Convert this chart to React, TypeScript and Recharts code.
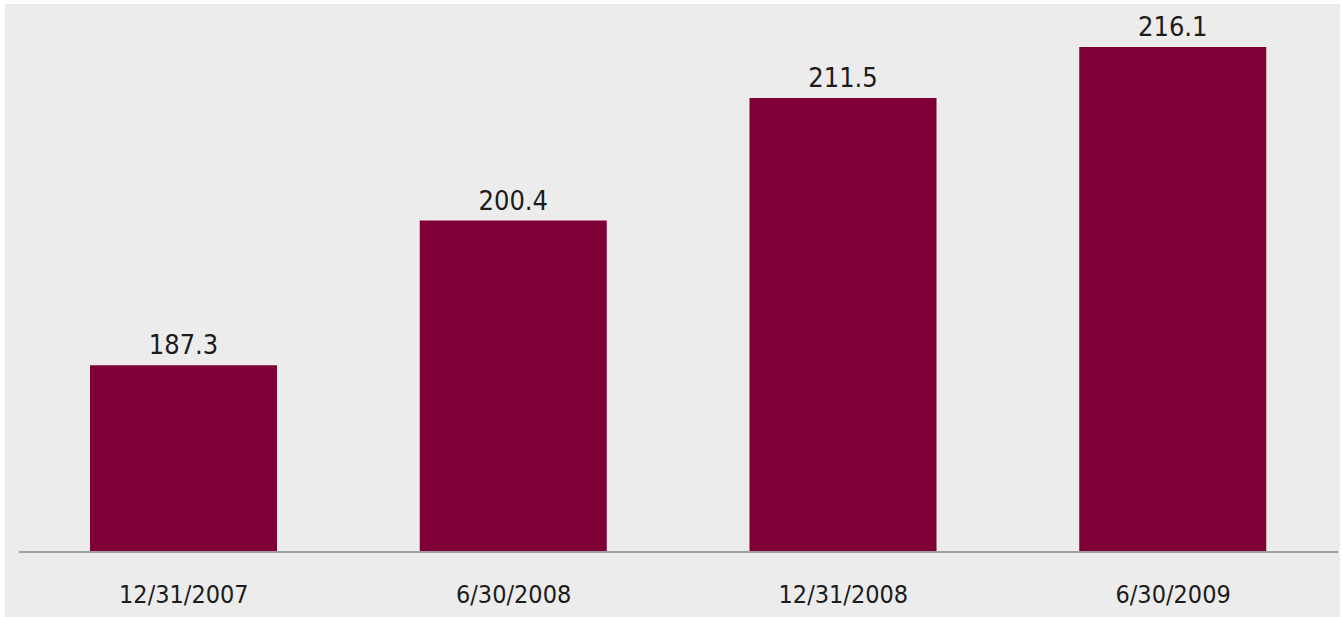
import React from "react";
import { BarChart, Bar, XAxis, YAxis, LabelList } from "recharts";

// Period-end dates and the values shown above each bar
const periods = ["12/31/2007", "6/30/2008", "12/31/2008", "6/30/2009"];
const values = [187.3, 200.4, 211.5, 216.1];

const data = periods.map((period, i) => ({ period, value: values[i] }));

const FONT = "Tahoma, 'DejaVu Sans Condensed', 'DejaVu Sans', sans-serif";
const BAR_COLOR = "#7f0037";

const App = () => {
  return (
    <div
      style={{
        position: "absolute",
        left: 0,
        top: 0,
        width: 1343,
        height: 617,
        background: "#ffffff",
        overflow: "hidden",
      }}
    >
      {/* Gray panel behind the chart */}
      <div
        style={{
          position: "absolute",
          left: 5,
          top: 4,
          width: 1335,
          height: 613,
          background: "#ececec",
        }}
      />
      <div style={{ position: "absolute", left: 0, top: 0 }}>
        <BarChart
          width={1343}
          height={617}
          data={data}
          margin={{ top: 4, right: 5, left: 19, bottom: 0 }}
        >
          <YAxis hide domain={[170.4, 220]} allowDataOverflow />
          <XAxis
            dataKey="period"
            height={65}
            axisLine={{ stroke: "#a0a0a0", strokeWidth: 2 }}
            tickLine={false}
            tickSize={0}
            tickMargin={33}
            tick={{ fill: "#1c1c1c", fontSize: 25, fontFamily: FONT }}
          />
          <Bar
            dataKey="value"
            fill={BAR_COLOR}
            barSize={187}
            isAnimationActive={false}
          >
            <LabelList
              dataKey="value"
              position="top"
              offset={11}
              fill="#1c1c1c"
              fontSize={27}
              fontFamily={FONT}
              formatter={(v: number) => v.toFixed(1)}
            />
          </Bar>
        </BarChart>
      </div>
    </div>
  );
};

export default App;
